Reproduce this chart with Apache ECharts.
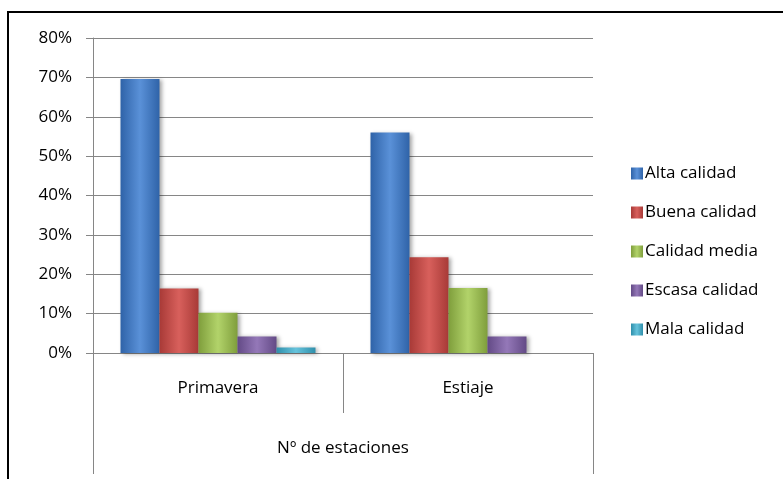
<!DOCTYPE html>
<html><head><meta charset="utf-8">
<script src="https://cdn.jsdelivr.net/npm/echarts@6/dist/echarts.min.js"></script>
<style>
html,body{margin:0;padding:0;background:#fff;overflow:hidden}
#frame{position:absolute;left:7px;top:11px;width:900px;height:600px;border-top:2px solid #000;border-left:2px solid #000;box-sizing:border-box}
#c{position:absolute;left:0;top:0;width:783px;height:479px}
</style></head>
<body>
<div id="frame"></div>
<div id="c"></div>
<script>
const categories = ['Primavera', 'Estiaje'];
const outerCategory = ['Nº de estaciones'];
const seriesNames = ['Alta calidad', 'Buena calidad', 'Calidad media', 'Escasa calidad', 'Mala calidad'];
const altaCalidad = [69.6, 56.0];
const buenaCalidad = [16.4, 24.3];
const calidadMedia = [10.2, 16.5];
const escasaCalidad = [4.2, 4.2];
const malaCalidad = [1.4, null];
const yTicks = [0, 10, 20, 30, 40, 50, 60, 70, 80];

const values = [altaCalidad, buenaCalidad, calidadMedia, escasaCalidad, malaCalidad];
const palette = [
  ['#2f63a8', '#5a91d8'],
  ['#a83a37', '#d8605c'],
  ['#7f9e3c', '#b2d36a'],
  ['#634a86', '#9478b8'],
  ['#2f8fab', '#66c3dc']
];
function grad(c){
  return new echarts.graphic.LinearGradient(0,0,1,0,[
    {offset:0,color:c[0]},{offset:0.5,color:c[1]},{offset:1,color:c[0]}
  ]);
}
const font = '"Open Sans", "Noto Sans", sans-serif';
const fs = 17;
const chart = echarts.init(document.getElementById('c'), null, {renderer:'canvas'});
chart.setOption({
  animation:false,
  textStyle:{fontFamily:font},
  grid:{left:93, right:190, top:38, bottom:126, containLabel:false},
  legend:{
    orient:'vertical', left:626, top:160,
    itemWidth:12, itemHeight:12, itemGap:22,
    icon:'rect',
    textStyle:{fontSize:fs, color:'#000', fontFamily:font, padding:[0,0,0,-3]},
    data:seriesNames.map((n,i)=>({name:n, itemStyle:{color:grad(palette[i])}}))
  },
  xAxis:[{
    type:'category', data:categories, position:'bottom',
    axisLine:{show:true, lineStyle:{color:'#868686', width:1}},
    axisTick:{show:true, length:60, lineStyle:{color:'#868686'}},
    axisLabel:{margin:27, fontSize:fs, color:'#000', fontFamily:font},
    splitLine:{show:false}
  },{
    type:'category', data:outerCategory, position:'bottom',
    axisLine:{show:false},
    axisTick:{show:true, length:121, lineStyle:{color:'#868686'}},
    axisLabel:{margin:87, fontSize:fs, color:'#000', fontFamily:font},
    splitLine:{show:false}
  }],
  yAxis:{
    type:'value', min:0, max:80, interval:10,
    axisLine:{show:true, lineStyle:{color:'#868686'}},
    axisTick:{show:true, length:7, lineStyle:{color:'#868686'}},
    axisLabel:{margin:21, fontSize:fs, color:'#000', fontFamily:font,
      formatter:v=>yTicks.includes(v)?v+'%':''},
    splitLine:{show:true, lineStyle:{color:'#868686', width:1}}
  },
  series:values.map((d,i)=>({
    name:seriesNames[i], type:'bar', data:d, xAxisIndex:0,
    barGap:'0%', barCategoryGap:'22%',
    itemStyle:{color:grad(palette[i]), shadowColor:'rgba(0,0,0,0.35)', shadowBlur:4, shadowOffsetX:2, shadowOffsetY:1}
  }))
});
</script>
</body></html>
